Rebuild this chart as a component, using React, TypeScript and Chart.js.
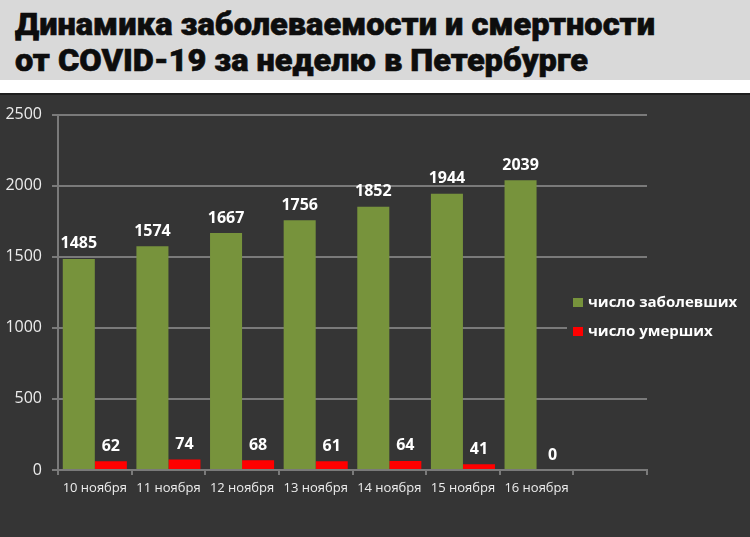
import React, { useEffect, useLayoutEffect, useRef } from "react";
import { Chart, registerables } from "chart.js";

Chart.register(...registerables);

const TITLE_LINES = [
  "Динамика заболеваемости и смертности",
  "от COVID-19 за неделю в Петербурге",
];
const CATEGORIES = [
  "10 ноября",
  "11 ноября",
  "12 ноября",
  "13 ноября",
  "14 ноября",
  "15 ноября",
  "16 ноября",
  "",
];
const INFECTED = [1485, 1574, 1667, 1756, 1852, 1944, 2039, null];
const DEATHS = [62, 74, 68, 61, 64, 41, 0, null];
const SERIES_LABELS = ["число заболевших", "число умерших"];
const SERIES_COLORS = ["#77933c", "#ff0000"];
const Y_MIN = 0;
const Y_MAX = 2500;
const Y_STEP = 500;

const BG = "#353535";
const GRID = "#7a7a7a";
const TEXT = "#ececec";
const FONT = "'Open Sans', 'Noto Sans', sans-serif";

const TITLE_TARGETS = [640, 573];
const TITLE_TOPS = [9, 45];

function TitleLine({ text, top, target }: { text: string; top: number; target: number }) {
  const ref = useRef<HTMLSpanElement>(null);
  useLayoutEffect(() => {
    const el = ref.current;
    if (!el) return;
    el.style.transform = "none";
    const w = el.getBoundingClientRect().width;
    if (w > 0) el.style.transform = `scaleX(${target / w})`;
  }, [text, target]);
  return (
    <span
      ref={ref}
      style={{
        position: "absolute",
        left: 15,
        top,
        whiteSpace: "nowrap",
        fontFamily: "Roboto, 'Liberation Sans', sans-serif",
        fontWeight: 900,
        fontSize: 31,
        lineHeight: "31px",
        color: "#0d0d0d",
        WebkitTextStroke: "0.6px #0d0d0d",
        transformOrigin: "0 0",
        display: "inline-block",
      }}
    >
      {text}
    </span>
  );
}

const valueLabels = {
  id: "valueLabels",
  afterDatasetsDraw(chart: any) {
    const ctx = chart.ctx;
    ctx.save();
    ctx.fillStyle = "#ffffff";
    ctx.font = `bold 16px ${FONT}`;
    ctx.textAlign = "center";
    ctx.textBaseline = "middle";
    chart.data.datasets.forEach((ds: any, i: number) => {
      const meta = chart.getDatasetMeta(i);
      meta.data.forEach((bar: any, j: number) => {
        const v = ds.data[j];
        if (v === null || v === undefined) return;
        ctx.fillText(String(v), bar.x, bar.y - 15);
      });
    });
    ctx.restore();
  },
};

const customLegend = {
  id: "customLegend",
  afterDraw(chart: any) {
    const ctx = chart.ctx;
    ctx.save();
    ctx.fillStyle = BG;
    ctx.fillRect(567, 191, 183, 60);
    ctx.font = `bold 15px ${FONT}`;
    ctx.textAlign = "left";
    ctx.textBaseline = "middle";
    chart.data.datasets.forEach((ds: any, i: number) => {
      const y = 208 + i * 29;
      ctx.fillStyle = ds.backgroundColor;
      ctx.fillRect(573, y - 5, 10, 9);
      ctx.fillStyle = "#ffffff";
      ctx.fillText(ds.label, 588, y);
    });
    ctx.restore();
  },
};

export default function App() {
  const canvasRef = useRef<HTMLCanvasElement>(null);

  useEffect(() => {
    const canvas = canvasRef.current;
    if (!canvas) return;
    const chart = new Chart(canvas, {
      type: "bar",
      data: {
        labels: CATEGORIES,
        datasets: [
          {
            label: SERIES_LABELS[0],
            data: INFECTED,
            backgroundColor: SERIES_COLORS[0],
            categoryPercentage: 0.87,
            barPercentage: 1,
          },
          {
            label: SERIES_LABELS[1],
            data: DEATHS,
            backgroundColor: SERIES_COLORS[1],
            categoryPercentage: 0.87,
            barPercentage: 1,
          },
        ],
      },
      options: {
        responsive: false,
        animation: false,
        devicePixelRatio: 1,
        layout: { padding: { top: 17, right: 103, bottom: 37, left: 0 } },
        plugins: {
          legend: { display: false },
          tooltip: { enabled: false },
          title: { display: false },
        },
        scales: {
          x: {
            afterFit: (s: any) => {
              s.height = 30;
            },
            grid: {
              display: true,
              drawOnChartArea: false,
              drawTicks: true,
              tickLength: 5,
              color: GRID,
              lineWidth: 2,
              offset: true,
            },
            border: { display: true, color: GRID, width: 2 },
            ticks: {
              color: TEXT,
              font: { family: FONT, size: 13 },
              padding: 5,
              maxRotation: 0,
              autoSkip: false,
            },
          },
          y: {
            min: Y_MIN,
            max: Y_MAX,
            afterFit: (s: any) => {
              s.width = 58;
            },
            grid: {
              color: GRID,
              lineWidth: 2,
              drawTicks: true,
              tickLength: 6,
            },
            border: { display: true, color: GRID, width: 2 },
            ticks: {
              stepSize: Y_STEP,
              color: TEXT,
              font: { family: FONT, size: 16 },
              padding: 10,
              callback: (v: any) => String(v),
            },
          },
        },
      },
      plugins: [valueLabels, customLegend],
    });
    return () => chart.destroy();
  }, []);

  return (
    <div
      style={{
        position: "absolute",
        left: 0,
        top: 0,
        width: 750,
        height: 537,
        background: "#ffffff",
        overflow: "hidden",
      }}
    >
      <div
        style={{
          position: "absolute",
          left: 0,
          top: 0,
          width: 750,
          height: 80,
          background: "#d9d9d9",
        }}
      >
        {TITLE_LINES.map((t, i) => (
          <TitleLine key={i} text={t} top={TITLE_TOPS[i]} target={TITLE_TARGETS[i]} />
        ))}
      </div>
      <div
        style={{
          position: "absolute",
          left: 0,
          top: 93,
          width: 750,
          height: 2,
          background: "#1e1e1e",
        }}
      />
      <canvas
        ref={canvasRef}
        width={750}
        height={442}
        style={{ position: "absolute", left: 0, top: 95, width: 750, height: 442, background: BG }}
      />
    </div>
  );
}
